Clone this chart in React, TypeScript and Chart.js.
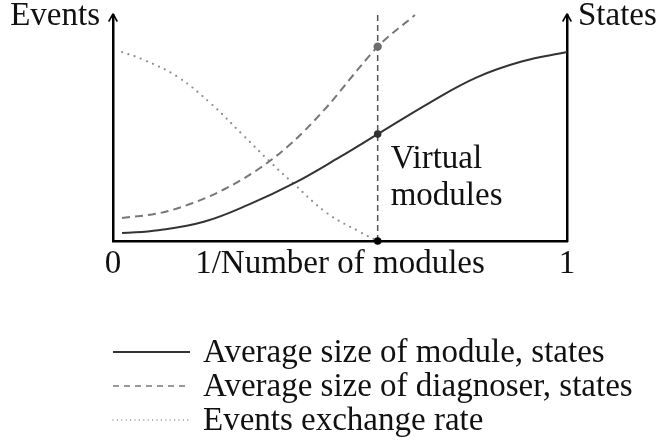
import { useEffect, useRef } from "react";
import { Chart, registerables } from "chart.js";

Chart.register(...registerables);

// Horizontal axis: 1/Number of modules, from 0 to 1
const xTickValues = [0, 0.5, 1];
const xTickLabels = ["0", "1/Number of modules", "1"];

// Average size of module, states (solid)
const moduleX = [0.02, 0.1, 0.2, 0.3, 0.4, 0.5, 0.583, 0.7, 0.8, 0.9, 1.0];
const moduleY = [3.5, 4.8, 8.5, 16.2, 25.7, 37.2, 47.3, 61.5, 72.3, 79.4, 83.6];

// Average size of diagnoser, states (dashed)
const diagX = [0.02, 0.104, 0.176, 0.251, 0.324, 0.396, 0.471, 0.544, 0.583, 0.665];
const diagY = [10.2, 12.4, 16.8, 23.5, 32.3, 43.8, 59.3, 77.0, 86.0, 100];

// Events exchange rate (dotted)
const eventsX = [0.02, 0.066, 0.141, 0.214, 0.286, 0.346, 0.396, 0.471, 0.544, 0.583];
const eventsY = [83.6, 80.3, 72.8, 61.1, 46.9, 35.0, 25.7, 12.4, 4.0, 0];

// Virtual modules position and the values marked there
const virtualX = 0.583;
const virtualMarks = [86.0, 47.3, 0];

const seriesLabels = [
  "Average size of module, states",
  "Average size of diagnoser, states",
  "Events exchange rate",
];
const leftAxisTitle = "Events";
const rightAxisTitle = "States";
const virtualLabel = ["Virtual", "modules"];

const FONT_SIZE = 33;
const FONT_FAMILY = "'Liberation Serif', serif";
const FONT = `${FONT_SIZE}px ${FONT_FAMILY}`;

const toPoints = (xs: number[], ys: number[]) => xs.map((x, i) => ({ x, y: ys[i] }));

const decorations = {
  id: "decorations",
  afterDraw(chart: any) {
    const ctx: CanvasRenderingContext2D = chart.ctx;
    const { left, right, top, bottom } = chart.chartArea;
    const xs = chart.scales.x;

    ctx.save();
    // arrow heads on the two vertical axes
    ctx.strokeStyle = "#000";
    ctx.lineWidth = 1.6;
    ctx.lineCap = "round";
    ctx.lineJoin = "round";
    for (const ax of [left, right]) {
      ctx.beginPath();
      ctx.moveTo(ax - 4, top + 6);
      ctx.lineTo(ax, top - 1);
      ctx.lineTo(ax + 4, top + 6);
      ctx.stroke();
    }

    // axis names
    ctx.font = FONT;
    ctx.fillStyle = "#111";
    ctx.textBaseline = "alphabetic";
    ctx.textAlign = "right";
    ctx.fillText(leftAxisTitle, left - 13, top + 10);
    ctx.textAlign = "left";
    ctx.fillText(rightAxisTitle, right + 11, top + 10);

    // virtual modules note
    const vx = xs.getPixelForValue(virtualX) + 13;
    ctx.fillText(virtualLabel[0], vx, bottom - 73);
    ctx.fillText(virtualLabel[1], vx, bottom - 36);

    // legend, one row per curve
    const rows = [362, 396, 430];
    chart.data.datasets.forEach((ds: any) => {
      if (ds.legendRow === undefined) return;
      const base = rows[ds.legendRow];
      const ly = base - 10;
      ctx.save();
      ctx.strokeStyle = ds.borderColor;
      ctx.lineWidth = ds.legendWidth ?? ds.borderWidth;
      ctx.lineCap = ds.borderCapStyle ?? "butt";
      ctx.setLineDash(ds.legendDash ?? []);
      ctx.beginPath();
      ctx.moveTo(left, ly);
      ctx.lineTo(left + 77, ly);
      ctx.stroke();
      ctx.restore();
      ctx.fillStyle = "#111";
      ctx.textAlign = "left";
      ctx.fillText(ds.label, left + 90, base);
    });
    ctx.restore();
  },
};

export default function App() {
  const ref = useRef<HTMLCanvasElement>(null);

  useEffect(() => {
    const chart = new Chart(ref.current!, {
      type: "line",
      data: {
        datasets: [
          {
            label: "marks",
            data: virtualMarks.map((y) => ({ x: virtualX, y })),
            showLine: false,
            pointRadius: [4.2, 3.8, 3.8],
            pointBorderWidth: 0,
            pointBackgroundColor: ["#6e6e6e", "#333333", "#000000"],
            order: 0,
            clip: false,
          } as any,
          {
            label: "virtual",
            data: [
              { x: virtualX, y: 0 },
              { x: virtualX, y: 100 },
            ],
            borderColor: "#555555",
            borderWidth: 1.5,
            borderDash: [6, 4],
            pointRadius: 0,
            order: 4,
          },
          {
            label: seriesLabels[0],
            data: toPoints(moduleX, moduleY),
            borderColor: "#333333",
            borderWidth: 2,
            pointRadius: 0,
            tension: 0.4,
            order: 1,
            clip: false,
            legendRow: 0,
          } as any,
          {
            label: seriesLabels[1],
            data: toPoints(diagX, diagY),
            borderColor: "#777777",
            borderWidth: 2,
            borderDash: [8, 5],
            pointRadius: 0,
            cubicInterpolationMode: "monotone",
            order: 2,
            clip: false,
            legendRow: 1,
            legendDash: [6, 5],
            legendWidth: 1.5,
          } as any,
          {
            label: seriesLabels[2],
            data: toPoints(eventsX, eventsY),
            borderColor: "#8c8c8c",
            borderWidth: 2.2,
            borderDash: [0, 6.6],
            borderCapStyle: "round",
            pointRadius: 0,
            tension: 0.4,
            order: 3,
            clip: false,
            legendRow: 2,
            legendDash: [0, 4.4],
            legendWidth: 1.4,
          } as any,
        ],
      },
      options: {
        responsive: false,
        animation: false,
        events: [],
        layout: { padding: { top: 15, left: 0, right: 0, bottom: 0 } },
        plugins: {
          legend: { display: false },
          tooltip: { enabled: false },
        },
        scales: {
          x: {
            type: "linear",
            position: "bottom",
            min: 0,
            max: 1,
            grid: { display: false, drawTicks: false },
            border: { display: true, color: "#000", width: 2.5 },
            afterBuildTicks: (scale: any) => {
              scale.ticks = xTickValues.map((value) => ({ value }));
            },
            afterFit: (scale: any) => {
              scale.height = 207;
            },
            ticks: {
              autoSkip: false,
              maxRotation: 0,
              padding: 4,
              color: "#111",
              font: { family: FONT_FAMILY, size: FONT_SIZE },
              callback: (value: any) => {
                const i = xTickValues.indexOf(Number(value));
                return i >= 0 ? xTickLabels[i] : "";
              },
            },
          },
          y: {
            type: "linear",
            position: "left",
            min: 0,
            max: 100,
            grid: { display: false, drawTicks: false },
            border: { display: true, color: "#000", width: 2.5 },
            ticks: { display: false },
            afterFit: (scale: any) => {
              scale.width = 113;
            },
          },
          y2: {
            type: "linear",
            position: "right",
            min: 0,
            max: 100,
            grid: { display: false, drawTicks: false },
            border: { display: true, color: "#000", width: 2.5 },
            ticks: { display: false },
            afterFit: (scale: any) => {
              scale.width = 96;
            },
          },
        },
      } as any,
      plugins: [decorations],
    });
    return () => chart.destroy();
  }, []);

  return (
    <div style={{ position: "fixed", left: 0, top: 0, width: 663, height: 448, background: "#fff" }}>
      <canvas ref={ref} width={663} height={448} style={{ display: "block", width: 663, height: 448 }} />
    </div>
  );
}
